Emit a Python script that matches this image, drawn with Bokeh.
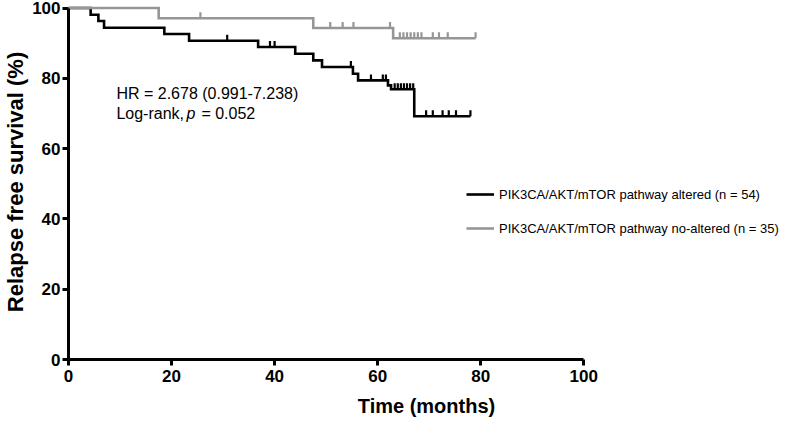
import numpy as np
from bokeh.plotting import figure
from bokeh.models import (Range1d, FixedTicker, Label, Legend, LegendItem,
                          ColumnDataSource, CDSView, IndexFilter)
from bokeh.embed import file_html
from bokeh.resources import INLINE

# ---------------- data ----------------
altered_time = [0, 4.3, 5.8, 6.9, 18.6, 23.4, 36.8, 44.0, 47.5, 49.2, 55.2, 56.2, 62.0, 62.6, 67.1, 78.0]
altered_surv = [100, 98.1, 96.3, 94.4, 92.6, 90.7, 88.9, 87.0, 85.1, 83.2, 81.3, 79.4, 78.0, 76.9, 69.2, 69.2]
altered_censor = [30.8, 39.1, 40.0, 54.8, 58.7, 61.0, 61.6, 63.3, 63.9, 64.5, 65.1, 65.7, 66.3, 66.9,
                  69.4, 70.7, 72.6, 73.8, 75.2, 78.0]

nonaltered_time = [0, 17.5, 47.5, 63.0, 79.0]
nonaltered_surv = [100, 97.1, 94.3, 91.4, 91.4]
nonaltered_censor = [25.6, 50.8, 53.2, 55.3, 62.4, 64.3, 65.0, 65.7, 66.4, 67.1, 67.8, 68.5,
                     70.7, 71.9, 73.6, 79.0]

x_ticks = [0, 20, 40, 60, 80, 100]
y_ticks = [0, 20, 40, 60, 80, 100]

label_altered = "PIK3CA/AKT/mTOR pathway altered (n = 54)"
label_nonaltered = "PIK3CA/AKT/mTOR pathway no-altered (n = 35)"
hr_text = "HR = 2.678 (0.991-7.238)"
logrank_text = "Log-rank,"
p_text = "p"
p_value_text = "= 0.052"

# ---------------- layout / style ----------------
W, H = 786, 421
TOP, BOTTOM, LEFT, RIGHT = 4, 62, 67, 2
Y_MAX = 101.0
X_AXIS_MAX = 100.0
X_AXIS_PX = 516            # pixel length of the 0..100 axis
FRAME_W = W - LEFT - RIGHT
FRAME_H = H - TOP - BOTTOM
PX_PER_Y = FRAME_H / Y_MAX
X_MAX = X_AXIS_MAX * FRAME_W / X_AXIS_PX
TICK_PX = 6
FONT = "Liberation Sans"
BLACK = "#000000"
GREY = "#969696"

p = figure(width=W, height=H, output_backend="svg", toolbar_location=None,
           x_range=Range1d(0, X_MAX), y_range=Range1d(0, Y_MAX),
           min_border_top=TOP, min_border_bottom=BOTTOM,
           min_border_left=LEFT, min_border_right=RIGHT)
p.outline_line_color = None
p.xgrid.visible = False
p.ygrid.visible = False
p.background_fill_color = "white"
p.border_fill_color = "white"


def censor_levels(times, survs, cens):
    t = np.asarray(times)
    s = np.asarray(survs)
    idx = np.searchsorted(t, np.asarray(cens), side="right") - 1
    return s[idx]


renderers = {}
for name, t, s, c, col in [("alt", altered_time, altered_surv, altered_censor, BLACK),
                           ("non", nonaltered_time, nonaltered_surv, nonaltered_censor, GREY)]:
    line = p.step(t, s, mode="after", line_color=col, line_width=2.6, line_join="miter")
    lv = censor_levels(t, s, c) + (TICK_PX / 2) / PX_PER_Y
    src = ColumnDataSource(dict(x=c, y=lv))
    p.scatter("x", "y", source=src, marker="dash", angle=np.pi / 2, size=TICK_PX,
              line_color=col, line_width=2.2)
    # legend-only tick symbol: same points, filtered out of the plot
    key = p.scatter("x", "y", source=src, view=CDSView(filter=IndexFilter([])),
                    marker="plus", line_color=col, fill_color=col, line_width=2)
    renderers[name] = [line, key]

# axes
for ax in (p.xaxis[0], p.yaxis[0]):
    ax.axis_line_width = 3
    ax.major_tick_line_width = 3
    ax.major_tick_out = 6
    ax.major_tick_in = 0
    ax.minor_tick_line_color = None
    ax.major_label_text_font = FONT
    ax.major_label_text_font_style = "bold"
    ax.major_label_text_font_size = "17px"
    ax.major_label_text_color = BLACK
    ax.axis_label_text_font = FONT
    ax.axis_label_text_font_style = "bold"
    ax.axis_label_text_color = BLACK

p.xaxis[0].bounds = (0, X_AXIS_MAX)
p.yaxis[0].bounds = (0, 100)
p.xaxis[0].ticker = FixedTicker(ticks=x_ticks)
p.yaxis[0].ticker = FixedTicker(ticks=y_ticks)
p.xaxis[0].axis_label = "Time (months)"
p.yaxis[0].axis_label = "Relapse free survival (%)"
p.xaxis[0].axis_label_text_font_size = "20px"
p.yaxis[0].axis_label_text_font_size = "22px"
p.xaxis[0].major_label_standoff = 4
p.yaxis[0].major_label_standoff = 2
p.xaxis[0].axis_label_standoff = 10
p.yaxis[0].axis_label_standoff = 1

# annotation text
common = dict(x_units="data", y_units="data", text_font=FONT, text_font_size="16px",
              text_color=BLACK, text_baseline="middle", text_align="left")
p.add_layout(Label(x=9.3, y=75.8, text=hr_text, **common))
p.add_layout(Label(x=9.3, y=70.1, text=logrank_text, **common))
p.add_layout(Label(x=9.3, y=70.1, x_offset=70, text=p_text, text_font_style="italic", **common))
p.add_layout(Label(x=9.3, y=70.1, x_offset=85, text=p_value_text, **common))

# legend
legend = Legend(items=[LegendItem(label=label_altered, renderers=renderers["alt"]),
                       LegendItem(label=label_nonaltered, renderers=renderers["non"])],
                location=(398, int(37.3 * PX_PER_Y) - 10),
                orientation="vertical",
                label_text_font=FONT, label_text_font_size="13px", label_text_color=BLACK,
                glyph_width=28, glyph_height=14, label_height=20, label_standoff=5,
                spacing=14, padding=0, margin=0,
                border_line_color=None, background_fill_alpha=0)
p.add_layout(legend, "center")

open("out.html", "w").write(file_html(p, INLINE))
